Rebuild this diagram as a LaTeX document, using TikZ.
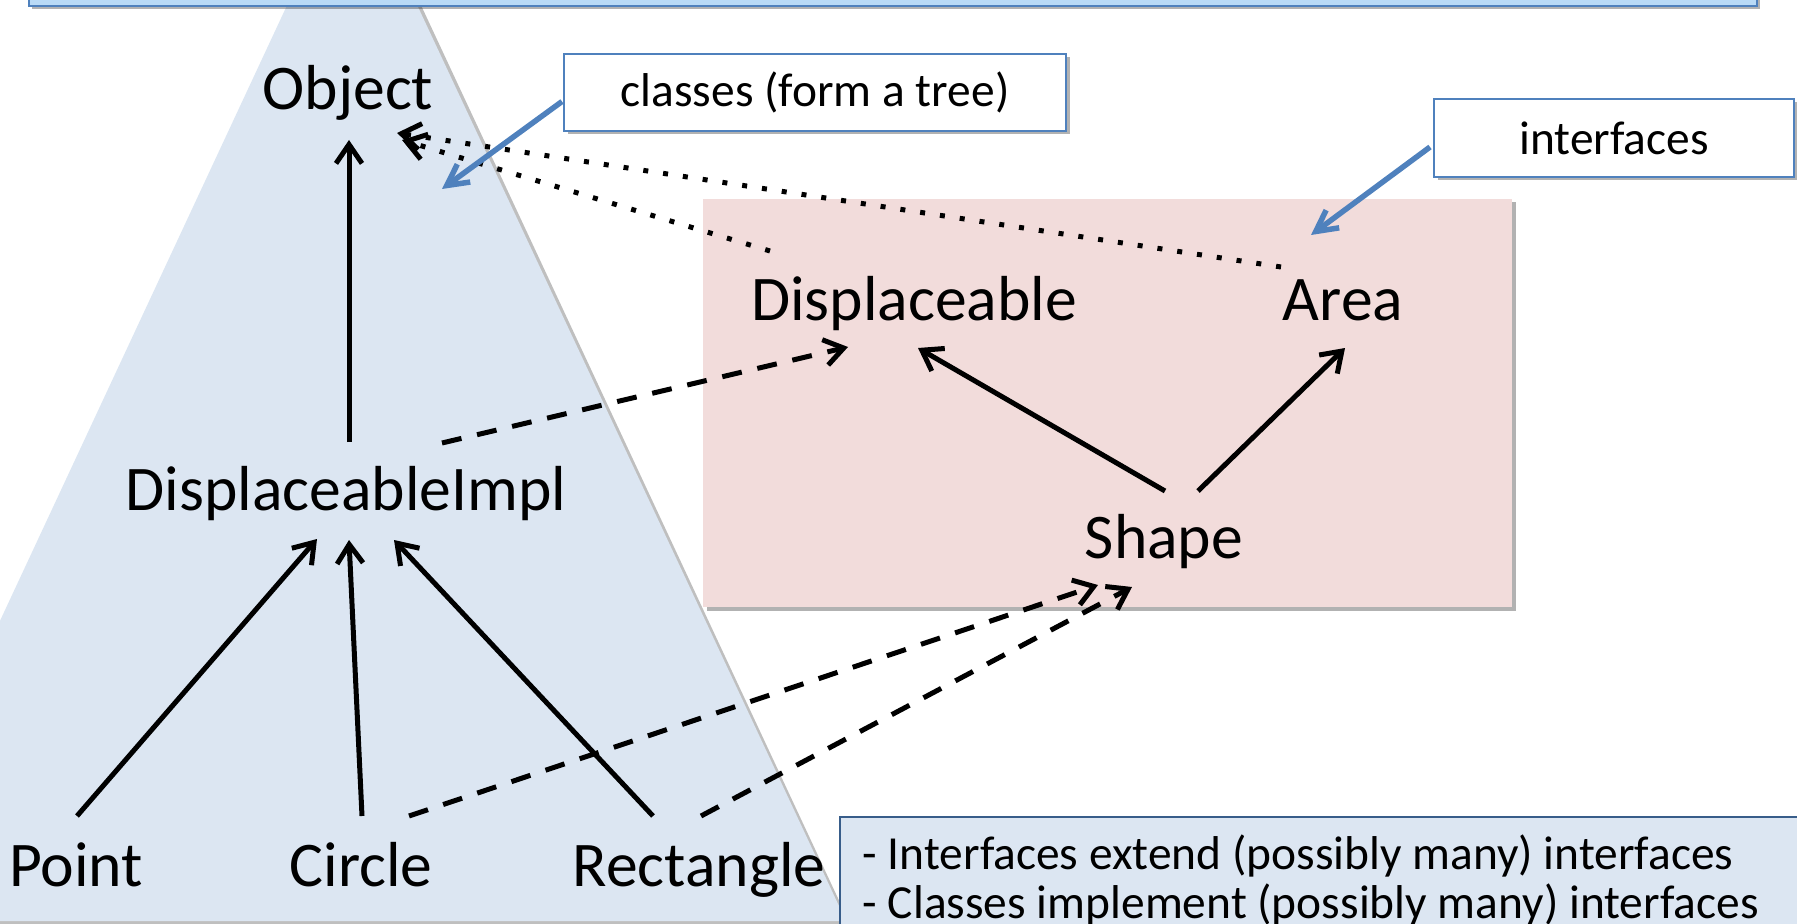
\documentclass[tikz,border=0pt]{standalone}
\usepackage{fontspec}
\setmainfont{Carlito}
\usetikzlibrary{arrows.meta,calc,shadows}
\definecolor{triblue}{RGB}{220,230,242}
\definecolor{pinkbg}{RGB}{242,220,219}
\definecolor{bannerfill}{RGB}{185,218,246}
\definecolor{callblue}{RGB}{79,129,189}
\definecolor{notedraw}{RGB}{56,93,138}
\tikzset{
  big/.style={font=\fontsize{18.1}{21}\selectfont, inner sep=0pt, anchor=base},
  small/.style={font=\fontsize{13.5}{15}\selectfont, inner sep=0pt},
  softshadow/.style={drop shadow={shadow xshift=0.35mm, shadow yshift=-0.35mm, opacity=0.3, fill=black}},
  callout/.style={small, draw=callblue, line width=0.2mm, fill=white, softshadow},
  conn/.style={line width=0.5mm, -{Straight Barb[length=1.9mm,width=2.6mm]}},
  dashconn/.style={conn, dash pattern=on 2mm off 1.6mm},
  dotconn/.style={conn, dash pattern=on 0.5mm off 1.5mm},
  callarrow/.style={line width=0.55mm, draw=callblue, -{Straight Barb[length=2.1mm,width=2.2mm]}},
}
\begin{document}
\begin{tikzpicture}[x=0.1mm,y=-0.1mm]
\useasboundingbox (0,0) rectangle (1797,923);
\clip (0,0) rectangle (1797,923);
% classes triangle
\fill[black,opacity=0.25] (356,-134) -- (850,924) -- (-140,924) -- cycle;
\fill[triblue] (352,-134) -- (846,921) -- (-140,921) -- cycle;
% top banner
\fill[black,opacity=0.3] (32,-30) rectangle (1760,9);
\filldraw[fill=bannerfill, draw=callblue, line width=0.25mm] (29,-30) rectangle (1757,6);
% interfaces area
\fill[pinkbg, softshadow] (703,199) rectangle (1512,607);
% note box
\filldraw[fill=triblue, draw=notedraw, line width=0.2mm] (840,817) rectangle (1830,960);
\node[small, anchor=base west] (note1) at (862,869) {- Interfaces extend (possibly many) interfaces};
\node[small, anchor=base west] (note2) at (862,918) {- Classes implement (possibly many) interfaces};
% type names
\node[big] (obj) at (348,110) {Object};
\node[big] (impl) at (346,510) {DisplaceableImpl};
\node[big] (pt) at (76,886) {Point};
\node[big] (cir) at (361,886) {Circle};
\node[big] (rect) at (699,886) {Rectangle};
\node[big] (disp) at (914,320) {Displaceable};
\node[big] (area) at (1343,320) {Area};
\node[big] (shape) at (1164,558) {Shape};
% extends (solid)
\draw[conn] ($(impl.base)+(3,-68)$) -- ($(obj.base)+(1,30)$);
\draw[conn] ($(pt.base)+(1,-70)$) -- ($(impl.base)+(-29,29)$);
\draw[conn] ($(cir.base)+(1,-70)$) -- ($(impl.base)+(3,30)$);
\draw[conn] ($(rect.base)+(-46,-70)$) -- ($(impl.base)+(48,30)$);
\draw[conn] ($(shape.base)+(1,-67)$) -- ($(disp.base)+(4,28)$);
\draw[conn] ($(shape.base)+(34,-67)$) -- ($(area.base)+(2,28)$);
% implements (dashed)
\draw[dashconn] ($(impl.base)+(96,-67)$) -- ($(disp.base)+(-66,27)$);
\draw[dashconn] ($(cir.base)+(48,-70)$) -- ($(shape.base)+(-66,27)$);
\draw[dashconn] ($(rect.base)+(2,-70)$) -- ($(shape.base)+(-32,29)$);
% interfaces to Object (dotted)
\draw[dotconn] ($(disp.base)+(-144,-69)$) -- ($(obj.base)+(54,30)$);
\draw[dotconn] ($(area.base)+(-62,-53)$) -- ($(obj.base)+(49,23)$);
% callouts
\node[callout, minimum width=50.2mm, minimum height=7.7mm] (cls) at (815,92.5) {classes (form a tree)};
\node[callout, minimum width=36mm, minimum height=7.8mm] (ifc) at (1614,138) {interfaces};
\coordinate (clstip) at (442,189);
\coordinate (ifctip) at (1311,235);
\draw[callarrow] ($(cls.west)+(-1,9)$) -- (clstip);
\draw[callarrow] ($(ifc.west)+(-3,9)$) -- (ifctip);
\end{tikzpicture}
\end{document}
